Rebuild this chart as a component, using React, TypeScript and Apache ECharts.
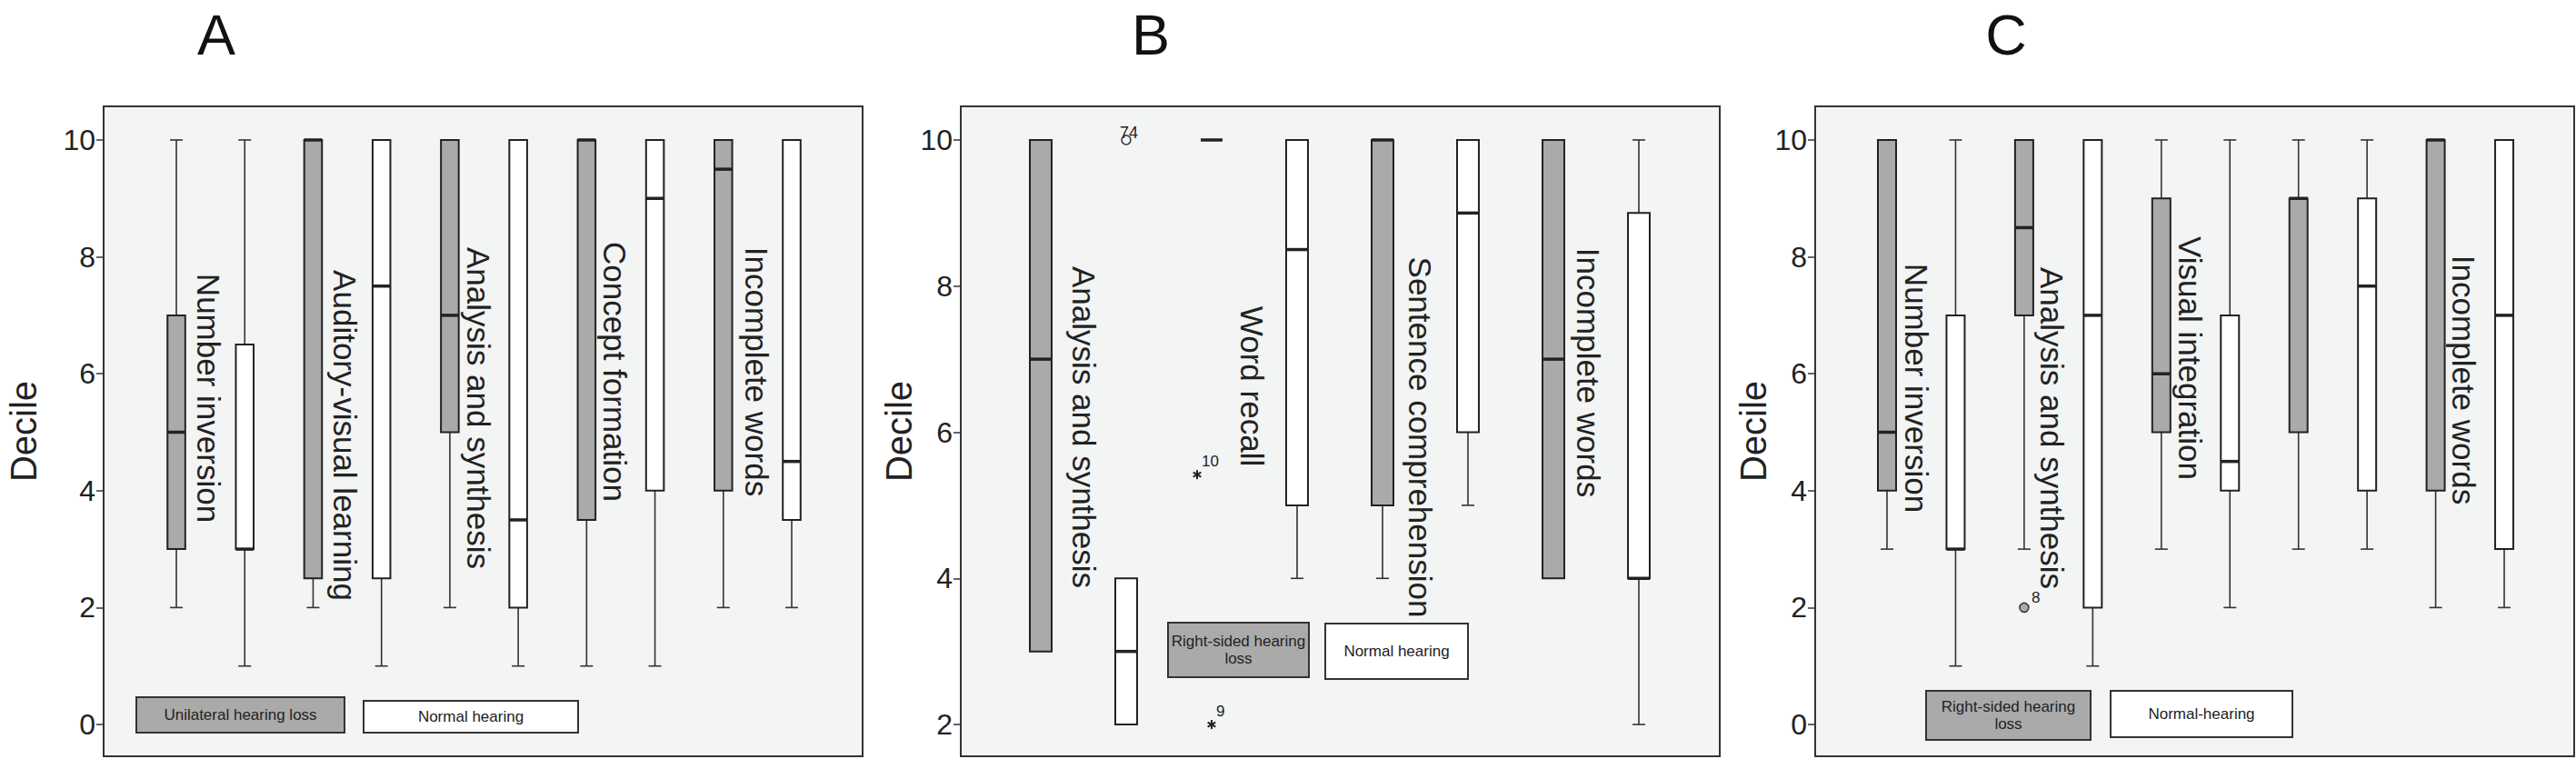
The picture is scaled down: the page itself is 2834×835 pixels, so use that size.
import React, { useEffect, useRef } from "react";
import * as echarts from "echarts";

// ---------- DATA ----------
// Each box: [min, q1, median, q3, max]
const aCategories = ["Number inversion", "Auditory-visual learning", "Analysis and synthesis", "Concept formation", "Incomplete words"];
const aUnilateral = [
  [2, 3, 5, 7, 10],
  [2, 2.5, 10, 10, 10],
  [2, 5, 7, 10, 10],
  [1, 3.5, 10, 10, 10],
  [2, 4, 9.5, 10, 10],
];
const aNormal = [
  [1, 3, 3, 6.5, 10],
  [1, 2.5, 7.5, 10, 10],
  [1, 2, 3.5, 10, 10],
  [1, 4, 9, 10, 10],
  [2, 3.5, 4.5, 10, 10],
];

const bCategories = ["Analysis and synthesis", "Word recall", "Sentence comprehension", "Incomplete words"];
const bRightSided = [
  [3, 3, 7, 10, 10],
  [10, 10, 10, 10, 10],
  [4, 5, 10, 10, 10],
  [4, 4, 7, 10, 10],
];
const bNormal = [
  [2, 2, 3, 4, 4],
  [4, 5, 8.5, 10, 10],
  [5, 6, 9, 10, 10],
  [2, 4, 4, 9, 10],
];
// outliers: [box position, value, case label, kind]
const bOutliers: [number, number, string, string][] = [
  [1, 10, "74", "circle"],
  [1.83, 5.42, "10", "star"],
  [2, 2, "9", "star"],
];

const cCategories = ["Number inversion", "Analysis and synthesis", "Visual integration", "", "Incomplete words"];
const cRightSided = [
  [3, 4, 5, 10, 10],
  [3, 7, 8.5, 10, 10],
  [3, 5, 6, 9, 10],
  [3, 5, 9, 9, 10],
  [2, 4, 10, 10, 10],
];
const cNormal = [
  [1, 3, 3, 7, 10],
  [1, 2, 7, 10, 10],
  [2, 4, 4.5, 7, 10],
  [3, 4, 7.5, 9, 10],
  [2, 3, 7, 10, 10],
];
const cOutliers: [number, number, string, string][] = [[2, 2, "8", "filledCircle"]];

const ticksAC = [0, 2, 4, 6, 8, 10];
const ticksB = [2, 4, 6, 8, 10];

const legendA = ["Unilateral hearing loss", "Normal hearing"];
const legendB = ["Right-sided hearing\nloss", "Normal hearing"];
const legendC = ["Right-sided hearing\nloss", "Normal-hearing"];

// ---------- STYLE ----------
const FONT = "Liberation Sans, Arial, Helvetica, sans-serif";
const GRAY = "#aaaaaa";
const WHITE = "#ffffff";
const INK = "#222222";
const BG = "#f3f4f4";

function buildBoxData(groupA: number[][], groupB: number[][]) {
  const out: number[][] = [];
  groupA.forEach((s, i) => {
    out.push([2 * i, ...s, 0]);
    out.push([2 * i + 1, ...groupB[i], 1]);
  });
  return out;
}

function boxRender(boxW: number) {
  return (params: any, api: any) => {
    const x = api.value(0);
    const mn = api.value(1), q1 = api.value(2), md = api.value(3), q3 = api.value(4), mx = api.value(5);
    const fill = api.value(6) === 0 ? GRAY : WHITE;
    const half = api.size([boxW, 0])[0] / 2;
    const capHalf = 7;
    const pMin = api.coord([x, mn]);
    const pQ1 = api.coord([x, q1]);
    const pMd = api.coord([x, md]);
    const pQ3 = api.coord([x, q3]);
    const pMax = api.coord([x, mx]);
    const cx = pMd[0];
    const children: any[] = [];
    const wStyle = { stroke: "#333", lineWidth: 1.6 };
    if (mx > q3) {
      children.push({ type: "line", shape: { x1: cx, y1: pMax[1], x2: cx, y2: pQ3[1] }, style: wStyle });
      children.push({ type: "line", shape: { x1: cx - capHalf, y1: pMax[1], x2: cx + capHalf, y2: pMax[1] }, style: wStyle });
    }
    if (mn < q1) {
      children.push({ type: "line", shape: { x1: cx, y1: pQ1[1], x2: cx, y2: pMin[1] }, style: wStyle });
      children.push({ type: "line", shape: { x1: cx - capHalf, y1: pMin[1], x2: cx + capHalf, y2: pMin[1] }, style: wStyle });
    }
    if (q3 > q1) {
      children.push({
        type: "rect",
        shape: { x: cx - half, y: pQ3[1], width: 2 * half, height: pQ1[1] - pQ3[1] },
        style: { fill, stroke: INK, lineWidth: 2 },
      });
    }
    children.push({
      type: "line",
      shape: { x1: cx - half, y1: pMd[1], x2: cx + half, y2: pMd[1] },
      style: { stroke: INK, lineWidth: 3.5 },
    });
    return { type: "group", children };
  };
}

function outlierRender(params: any, api: any, data: [number, number, string, string][]) {
  const item = data[params.dataIndex];
  const p = api.coord([item[0], item[1]]);
  const children: any[] = [];
  if (item[3] === "star") {
    const r = 5;
    [90, 30, 150].forEach((deg) => {
      const a = (deg * Math.PI) / 180;
      children.push({
        type: "line",
        shape: { x1: p[0] - r * Math.cos(a), y1: p[1] - r * Math.sin(a), x2: p[0] + r * Math.cos(a), y2: p[1] + r * Math.sin(a) },
        style: { stroke: INK, lineWidth: 2 },
      });
    });
    children.push({
      type: "text",
      x: p[0] + 5,
      y: p[1] - 6,
      style: { text: item[2], fontSize: 17, fontFamily: FONT, fill: INK, align: "left", verticalAlign: "bottom" },
    });
  } else {
    children.push({
      type: "circle",
      shape: { cx: p[0], cy: p[1], r: 5 },
      style: { fill: item[3] === "filledCircle" ? GRAY : "none", stroke: "#333", lineWidth: 1.5 },
    });
    if (item[3] === "filledCircle") {
      children.push({
        type: "text",
        x: p[0] + 8,
        y: p[1] - 2,
        style: { text: item[2], fontSize: 17, fontFamily: FONT, fill: INK, align: "left", verticalAlign: "bottom" },
      });
    } else {
      children.push({
        type: "text",
        x: p[0] - 7,
        y: p[1] + 1,
        style: { text: item[2], fontSize: 18, fontFamily: FONT, fill: INK, align: "left", verticalAlign: "bottom" },
      });
    }
  }
  return { type: "group", children };
}

function rotLabel(text: string, x: number, y: number) {
  return {
    type: "text",
    x,
    y,
    rotation: -Math.PI / 2,
    style: { text, fontSize: 35, fontFamily: FONT, fill: INK, align: "center", verticalAlign: "middle" },
  };
}

function legendBox(x: number, y: number, w: number, h: number, fill: string, text: string) {
  return {
    type: "group",
    children: [
      { type: "rect", shape: { x, y, width: w, height: h }, style: { fill, stroke: "#333", lineWidth: 2 } },
      {
        type: "text",
        x: x + w / 2,
        y: y + h / 2,
        style: { text, fontSize: 17, lineHeight: 19, fontFamily: FONT, fill: INK, align: "center", verticalAlign: "middle" },
      },
    ],
  };
}

function panelLetter(text: string, x: number) {
  return {
    type: "text",
    x,
    y: 38,
    style: { text, fontSize: 63, fontFamily: FONT, fill: "#111", align: "center", verticalAlign: "middle" },
  };
}

export default function App() {
  const ref = useRef<HTMLDivElement>(null);
  useEffect(() => {
    document.body.style.margin = "0";
    if (!ref.current) return;
    const chart = echarts.init(ref.current, null, { renderer: "svg" });

    const grids = [
      { left: 114, top: 117, width: 835, height: 715 },
      { left: 1057, top: 117, width: 835, height: 715 },
      { left: 1997, top: 117, width: 835, height: 715 },
    ].map((g) => ({
      ...g,
      show: true,
      backgroundColor: BG,
      borderColor: "#333",
      borderWidth: 2,
      containLabel: false,
      outerBoundsMode: "none",
    }));

    const xRanges = [
      [-1.064, 10.037],
      [-0.936, 7.947],
      [-1.047, 10.02],
    ];
    const yRanges = [
      [-0.544, 10.575],
      [1.565, 10.46],
      [-0.544, 10.575],
    ];
    const yTicks = [ticksAC, ticksB, ticksAC];
    const nameGaps = [68, 42, 40];

    const xAxis = xRanges.map((r, i) => ({
      gridIndex: i,
      type: "value",
      min: r[0],
      max: r[1],
      show: false,
      axisLine: { show: false, onZero: false },
      axisTick: { show: false },
      axisLabel: { show: false },
      splitLine: { show: false },
    }));
    const yAxis = yRanges.map((r, i) => ({
      gridIndex: i,
      type: "value",
      position: "left",
      min: r[0],
      max: r[1],
      axisLine: { show: false, onZero: false },
      splitLine: { show: false },
      axisTick: { show: true, customValues: yTicks[i], length: 8, lineStyle: { color: "#333", width: 1.5 } },
      axisLabel: { customValues: yTicks[i], fontSize: 32, color: INK, fontFamily: FONT, margin: 9 },
      name: "Decile",
      nameLocation: "middle",
      nameRotate: 90,
      nameGap: nameGaps[i],
      nameTextStyle: { fontSize: 40, color: INK, fontFamily: FONT },
    }));

    const boxW = [0.26, 0.255, 0.265];
    const boxSets = [
      buildBoxData(aUnilateral, aNormal),
      buildBoxData(bRightSided, bNormal),
      buildBoxData(cRightSided, cNormal),
    ];

    const series: any[] = boxSets.map((d, i) => ({
      type: "custom",
      name: "box" + i,
      xAxisIndex: i,
      yAxisIndex: i,
      data: d,
      renderItem: boxRender(boxW[i]),
      clip: false,
      z: 3,
    }));
    series.push({
      type: "custom",
      xAxisIndex: 1,
      yAxisIndex: 1,
      data: bOutliers.map((o) => [o[0], o[1]]),
      renderItem: (p: any, api: any) => outlierRender(p, api, bOutliers),
      z: 4,
    });
    series.push({
      type: "custom",
      xAxisIndex: 2,
      yAxisIndex: 2,
      data: cOutliers.map((o) => [o[0], o[1]]),
      renderItem: (p: any, api: any) => outlierRender(p, api, cOutliers),
      z: 4,
    });

    const graphic: any[] = [
      panelLetter("A", 238),
      panelLetter("B", 1266),
      panelLetter("C", 2207),
      // Panel A labels
      rotLabel(aCategories[0], 229, 438),
      rotLabel(aCategories[1], 379, 479),
      rotLabel(aCategories[2], 526, 449),
      rotLabel(aCategories[3], 676, 409),
      rotLabel(aCategories[4], 832, 409),
      // Panel B labels
      rotLabel(bCategories[0], 1192, 470),
      rotLabel(bCategories[1], 1377, 425),
      rotLabel(bCategories[2], 1562, 481),
      rotLabel(bCategories[3], 1747, 410),
      // Panel C labels
      rotLabel(cCategories[0], 2108, 427),
      rotLabel(cCategories[1], 2257, 471),
      rotLabel(cCategories[2], 2409, 394),
      rotLabel(cCategories[4], 2710, 418),
      // Legends
      legendBox(150, 767, 229, 39, GRAY, legendA[0]),
      legendBox(400, 771, 236, 35, WHITE, legendA[1]),
      legendBox(1285, 685, 155, 60, GRAY, legendB[0]),
      legendBox(1458, 686, 157, 61, WHITE, legendB[1]),
      legendBox(2119, 760, 181, 54, GRAY, legendC[0]),
      legendBox(2322, 760, 200, 51, WHITE, legendC[1]),
    ];

    chart.setOption({
      animation: false,
      backgroundColor: "#ffffff",
      grid: grids,
      xAxis,
      yAxis,
      series,
      graphic,
    });
    return () => chart.dispose();
  }, []);
  return <div ref={ref} style={{ width: 2834, height: 835 }} />;
}
